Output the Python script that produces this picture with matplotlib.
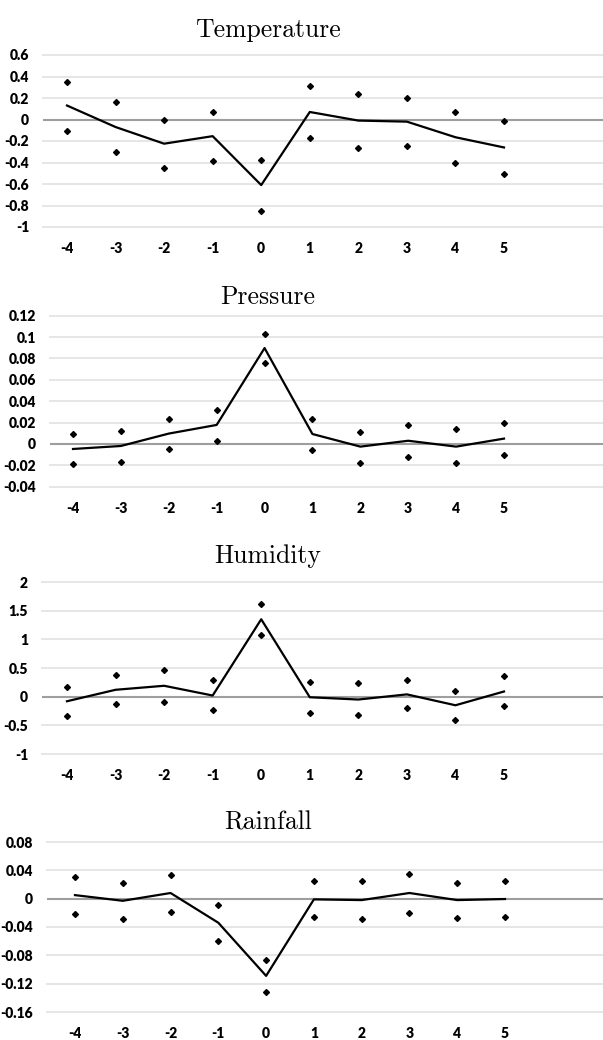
import numpy as np
import matplotlib
matplotlib.use("Agg")
import matplotlib.pyplot as plt

lags = [-4, -3, -2, -1, 0, 1, 2, 3, 4, 5]

temp_mean = [0.13, -0.07, -0.225, -0.155, -0.61, 0.07, -0.01, -0.02, -0.165, -0.26]
temp_upper = [0.35, 0.165, 0.0, 0.07, -0.375, 0.31, 0.24, 0.2, 0.072, -0.015]
temp_lower = [-0.104, -0.305, -0.45, -0.39, -0.85, -0.175, -0.262, -0.245, -0.405, -0.51]

pres_mean = [-0.0047, -0.0019, 0.0097, 0.0178, 0.0897, 0.0093, -0.0025, 0.003, -0.0025, 0.005]
pres_upper = [0.0097, 0.0125, 0.0237, 0.032, 0.103, 0.0237, 0.0115, 0.018, 0.0137, 0.02]
pres_lower = [-0.019, -0.0168, -0.005, 0.0031, 0.0757, -0.0059, -0.0174, -0.012, -0.018, -0.01]

hum_mean = [-0.08, 0.12, 0.19, 0.02, 1.35, -0.01, -0.05, 0.04, -0.15, 0.09]
hum_upper = [0.175, 0.37, 0.46, 0.29, 1.615, 0.257, 0.23, 0.285, 0.1, 0.36]
hum_lower = [-0.34, -0.12, -0.09, -0.23, 1.08, -0.28, -0.32, -0.2, -0.41, -0.157]

rain_mean = [0.005, -0.003, 0.008, -0.034, -0.109, -0.001, -0.002, 0.008, -0.002, -0.0005]
rain_upper = [0.0306, 0.022, 0.034, -0.0094, -0.087, 0.0245, 0.0245, 0.035, 0.022, 0.025]
rain_lower = [-0.022, -0.029, -0.019, -0.06, -0.132, -0.026, -0.029, -0.02, -0.027, -0.026]

W, H = 603, 1040
fig = plt.figure(figsize=(W / 100, H / 100), dpi=100)

# name, mean, upper, lower, yticks, tick labels, left px, top px, bottom px, x of lag -4, x of lag 5, title baseline
panels = [
    ("Temperature", temp_mean, temp_upper, temp_lower,
     [0.6, 0.4, 0.2, 0, -0.2, -0.4, -0.6, -0.8, -1],
     ["0.6", "0.4", "0.2", "0", "-0.2", "-0.4", "-0.6", "-0.8", "-1"],
     43, 55, 227, 67, 504, 37),
    ("Pressure", pres_mean, pres_upper, pres_lower,
     [0.12, 0.1, 0.08, 0.06, 0.04, 0.02, 0, -0.02, -0.04],
     ["0.12", "0.1", "0.08", "0.06", "0.04", "0.02", "0", "-0.02", "-0.04"],
     50, 315.7, 486.7, 73, 504, 304),
    ("Humidity", hum_mean, hum_upper, hum_lower,
     [2, 1.5, 1, 0.5, 0, -0.5, -1],
     ["2", "1.5", "1", "0.5", "0", "-0.5", "-1"],
     42, 582, 754, 67, 504, 563),
    ("Rainfall", rain_mean, rain_upper, rain_lower,
     [0.08, 0.04, 0, -0.04, -0.08, -0.12, -0.16],
     ["0.08", "0.04", "0", "-0.04", "-0.08", "-0.12", "-0.16"],
     47, 842, 1012, 75, 505, 830),
]

tick_font = dict(family="Lato", weight="heavy", size=10)

for (name, mean, upper, lower, yt, ytl, left, top, bottom, x0, x1, tb) in panels:
    ax = fig.add_axes([left / W, 1 - bottom / H, (W - left) / W, (bottom - top) / H])
    step = (x1 - x0) / 9
    ax.set_xlim(-4 - (x0 - left) / step, 5 + (W - x1) / step)
    ax.set_ylim(min(yt), max(yt))

    for v in yt:
        if v != 0:
            ax.axhline(v, color="#e6e6e6", lw=1.4, zorder=0, clip_on=False)
    ax.axhline(0, color="#9e9e9e", lw=1.5, zorder=1)

    ax.plot(lags, mean, color="black", lw=1.6, zorder=3)
    ax.plot(lags, upper, "D", color="black", ms=3, zorder=4, ls="none")
    ax.plot(lags, lower, "D", color="black", ms=3, zorder=4, ls="none")

    ax.set_yticks(yt)
    ax.set_yticklabels(ytl, **tick_font)
    ax.set_xticks(lags)
    ax.set_xticklabels([str(l) for l in lags], **tick_font)
    ax.tick_params(axis="y", length=0, pad=10)
    ax.tick_params(axis="x", length=0, pad=11)
    for s in ax.spines.values():
        s.set_visible(False)
    ax.patch.set_alpha(0)

    fig.text(268 / W, 1 - tb / H, name, family="cmr10", size=18.5,
             ha="center", va="baseline")

fig.savefig("out.png", dpi=100)
